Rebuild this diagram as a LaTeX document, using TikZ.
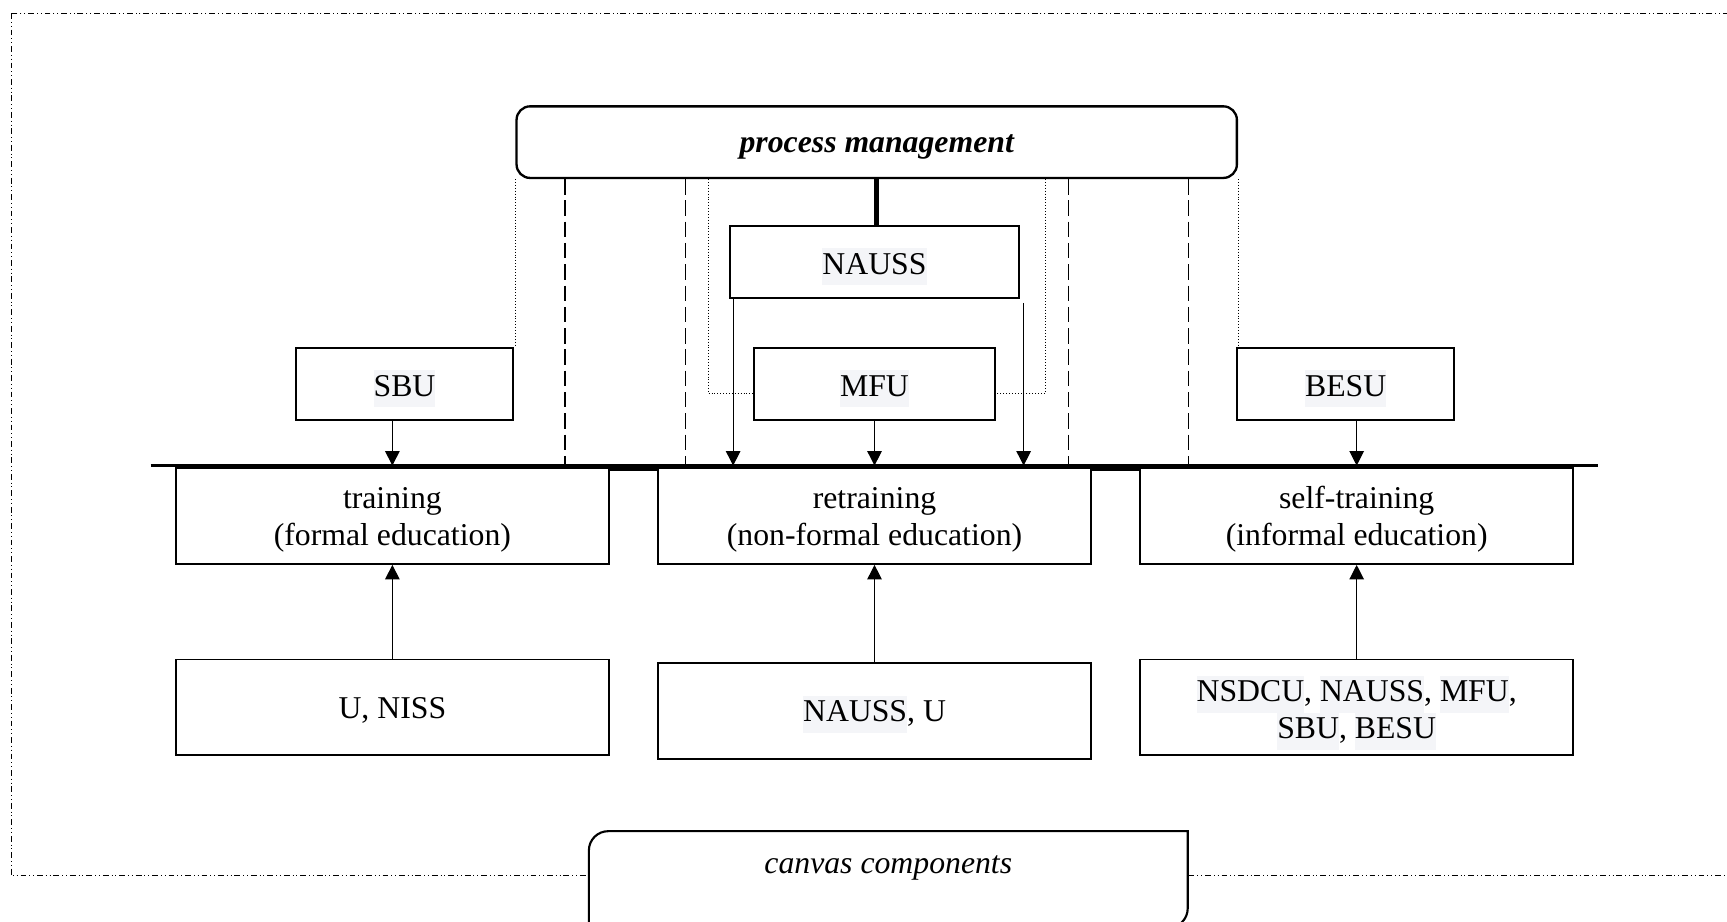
\documentclass[tikz,border=0pt]{standalone}
\usepackage{fontspec}
\setmainfont{Liberation Serif}
\usepackage{xcolor}
\usepackage{tikz}
\usetikzlibrary{positioning,arrows.meta}
\definecolor{hlGray}{HTML}{F4F5F8}
\newcommand{\abbrbg}[1]{{\setlength{\fboxsep}{0pt}\colorbox{hlGray}{\strut #1}}}
\tikzset{
  baseBox/.style={
    rectangle,
    draw=black,
    line width=1pt,
    fill=white,
    align=center,
    font=\fontsize{16.4pt}{19pt}\selectfont
  },
  unitBox/.style={
    baseBox,
    minimum width=3.94cm,
    minimum height=1.3cm,
    text height=16pt,
    text depth=3.7pt
  },
  levelBox/.style={
    baseBox,
    minimum width=7.86cm,
    minimum height=1.74cm,
    text height=33.8pt,
    text depth=3.5pt
  },
  sourceBox/.style={
    levelBox,
    text height=15pt,
    text depth=3.5pt
  },
  mgmtBox/.style={
    baseBox,
    rounded corners=7pt,
    line width=1.2pt,
    minimum width=13.08cm,
    minimum height=1.3cm,
    text height=13.6pt,
    text depth=3.3pt,
    font=\fontsize{16.4pt}{19pt}\selectfont\bfseries\itshape
  },
  canvasBox/.style={
    rectangle,
    fill=white,
    minimum width=10.86cm,
    minimum height=1.74cm,
    text depth=0.54cm,
    font=\fontsize{16.4pt}{19pt}\selectfont\itshape
  },
  canvasLine/.style={
    draw=black,
    line width=1.1pt
  },
  arrowLine/.style={
    -{Triangle[length=7.5pt,width=7.5pt]},
    line width=0.6pt
  },
  busLine/.style={
    line width=1.6pt
  },
  dashLine/.style={
    dash pattern=on 8pt off 3pt,
    line width=0.6pt
  },
  dotLine/.style={
    densely dotted,
    line width=0.5pt
  },
  frameLine/.style={
    dash pattern=on 3pt off 1.5pt on 0.5pt off 1.5pt on 0.5pt off 1.5pt,
    line width=0.5pt
  }
}

\begin{document}
\begin{tikzpicture}
        \clip (0,0) rectangle (31.36,-16.74);
        \draw[frameLine] (0.2,-0.24) rectangle (31.8,-15.9);

        % forms of education
        \node[levelBox] (retraining) at (15.88,-9.37) {retraining\\(non-formal education)};
        \node[levelBox, left=0.86cm of retraining] (training) {training\\(formal education)};
        \node[levelBox, right=0.86cm of retraining] (selftraining) {self-training\\(informal education)};

        % providers
        \node[sourceBox, below=1.7cm of training] (srcTraining) {U, NISS};
        \node[sourceBox, below=1.76cm of retraining] (srcRetraining) {\abbrbg{NAUSS}, U};
        \node[sourceBox, text height=36pt, text depth=3.8pt, below=1.7cm of selftraining] (srcSelf) {\abbrbg{NSDCU}, \abbrbg{NAUSS}, \abbrbg{MFU},\\\abbrbg{SBU}, \abbrbg{BESU}};

        % units
        \node[unitBox, minimum width=4.38cm, above=0.84cm of retraining] (mfu) {\abbrbg{MFU}};
        \node[unitBox, minimum width=5.24cm, above=0.88cm of mfu] (nauss) {\abbrbg{NAUSS}};
        \node[mgmtBox, above=0.84cm of nauss, xshift=0.04cm] (pm) {process management};
        \node[unitBox, above=0.84cm of training, xshift=0.22cm] (sbu) {\abbrbg{SBU}};
        \node[unitBox, above=0.84cm of selftraining, xshift=-0.2cm] (besu) {\abbrbg{BESU}};

        \node[canvasBox, below=1.3cm of srcRetraining, xshift=0.25cm] (canvas) {canvas components};
        \draw[canvasLine] (canvas.south west) -- ([yshift=-10pt]canvas.north west) arc[start angle=180, end angle=90, radius=10pt]
            -- (canvas.north east) -- ([yshift=10pt]canvas.south east) arc[start angle=0, end angle=-90, radius=10pt] -- cycle;

        % bus
        \coordinate (busW) at ([xshift=-0.44cm,yshift=0.8pt]training.north west);
        \coordinate (busE) at ([xshift=0.44cm,yshift=0.8pt]selftraining.north east);
        \draw[busLine] (busW) -- (busE);
        \draw[line width=3pt] ([yshift=-0.5pt]training.north east) -- ([yshift=-0.5pt]retraining.north west);
        \draw[line width=3pt] ([yshift=-0.5pt]retraining.north east) -- ([yshift=-0.5pt]selftraining.north west);

        % links from management
        \foreach \dx in {-5.66,-3.48,3.48,5.66}
            \draw[dashLine] ([xshift=\dx cm]pm.south) -- ([xshift=\dx cm]pm.south |- busW);
        \draw[dotLine] (pm.south west) -- (pm.south west |- sbu.north);
        \draw[dotLine] (pm.south east) -- (pm.south east |- besu.north);
        \draw[dotLine] ([xshift=-3.06cm]pm.south) |- ([yshift=-0.17cm]mfu.west);
        \draw[dotLine] ([xshift=3.06cm]pm.south) |- ([yshift=-0.17cm]mfu.east);
        \draw[line width=2.5pt] (pm.south) -- (pm.south |- nauss.north);

        % arrows
        \draw[arrowLine] ([xshift=2pt]nauss.south west) -- ([xshift=2pt]nauss.south west |- busW);
        \draw[arrowLine] ([xshift=2pt,yshift=-2pt]nauss.south east) -- ([xshift=2pt]nauss.south east |- busW);
        \draw[arrowLine] (retraining.north |- mfu.south) -- (retraining.north |- busW);
        \draw[arrowLine] (training.north |- sbu.south) -- (training.north |- busW);
        \draw[arrowLine] (selftraining.north |- besu.south) -- (selftraining.north |- busW);
        \foreach \lvl/\src in {training/srcTraining, retraining/srcRetraining, selftraining/srcSelf}
            \draw[arrowLine] (\src.north) -- (\lvl.south);
    \end{tikzpicture}
\end{document}
